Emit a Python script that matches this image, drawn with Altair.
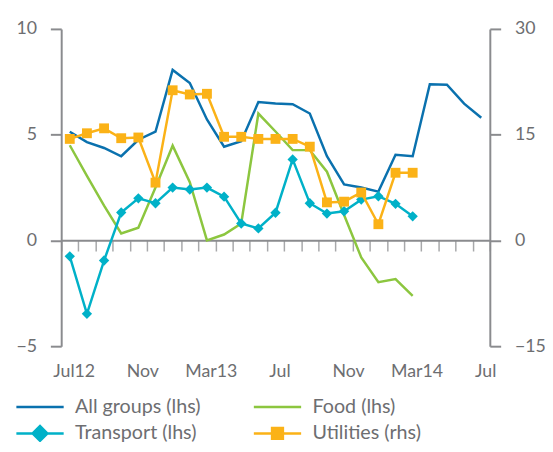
import altair as alt
import pandas as pd

months = ["2012-07", "2012-08", "2012-09", "2012-10", "2012-11", "2012-12",
          "2013-01", "2013-02", "2013-03", "2013-04", "2013-05", "2013-06",
          "2013-07", "2013-08", "2013-09", "2013-10", "2013-11", "2013-12",
          "2014-01", "2014-02", "2014-03", "2014-04", "2014-05", "2014-06", "2014-07"]
label_months = ["2012-07", "2012-11", "2013-03", "2013-07", "2013-11", "2014-03", "2014-07"]
label_texts = ["Jul12", "Nov", "Mar13", "Jul", "Nov", "Mar14", "Jul"]

all_groups = [5.14, 4.65, 4.37, 3.98, 4.76, 5.14, 8.06, 7.44, 5.72, 4.43, 4.69, 6.54, 6.47,
              6.44, 6.0, 3.98, 2.65, 2.5, 2.31, 4.05, 3.98, 7.38, 7.36, 6.47, 5.8]
food = [4.5, 3.05, 1.65, 0.33, 0.6, 2.5, 4.48, 2.75, 0.0, 0.28, 0.8, 6.0, 5.15,
        4.27, 4.27, 3.25, 1.2, -0.8, -1.97, -1.83, -2.62]
transport = [-0.75, -3.47, -0.95, 1.32, 1.99, 1.76, 2.5, 2.41, 2.5, 2.07, 0.8, 0.57, 1.31,
             3.83, 1.76, 1.27, 1.38, 1.93, 2.09, 1.73, 1.14]
utilities = [14.4, 15.2, 15.9, 14.5, 14.6, 8.2, 21.3, 20.7, 20.8, 14.7, 14.7, 14.4, 14.4,
             14.4, 13.3, 5.4, 5.5, 6.8, 2.3, 9.6, 9.6]

series_names = ["All groups (lhs)", "Food (lhs)", "Transport (lhs)", "Utilities (rhs)"]
series_colors = ["#0A71AE", "#8CC63F", "#00B1C8", "#FBB217"]
legend_paths = [
    "M-1,0H3.8",
    "M-1,0H3.8",
    "M-1,0H3.8M0.65,0L1.4,-0.75L2.15,0L1.4,0.75Z",
    "M-1,0H3.8M0.85,-0.55H1.95V0.55H0.85Z",
]

FONT = "Lato"
TEXT = "#6D6E71"
AXIS = "#8A8B8E"

def frame(vals):
    return pd.DataFrame({"month": months[:len(vals)], "value": vals})

leg_df = pd.DataFrame({"series": series_names})

label_expr = " : ".join(
    f"datum.value == '{m}' ? '{t}'" for m, t in zip(label_months, label_texts)
) + " : ''"

x_scale = alt.Scale(type="band", domain=months, paddingInner=0, paddingOuter=0)
x_axis = alt.Axis(orient="bottom", offset=-107.6, values=months, labelExpr=label_expr,
                  tickBand="extent", tickSize=11, tickWidth=1.5, tickColor="#A7A8AA",
                  domainColor=AXIS, domainWidth=2, labelPadding=113, labelOffset=4,
                  labelFont=FONT, labelFontSize=18, labelColor=TEXT, labelOverlap=False,
                  title=None, grid=False, labelAngle=0)

left_axis = alt.Axis(orient="left", values=[-5, 0, 5, 10], tickSize=11, tickWidth=2, tickColor=AXIS,
                     domainColor=AXIS, domainWidth=2, labelPadding=14, labelFont=FONT,
                     labelFontSize=18, labelColor=TEXT, title=None, grid=False)
right_axis = alt.Axis(orient="right", values=[-15, 0, 15, 30], tickSize=11, tickWidth=2, tickColor=AXIS,
                      domainColor=AXIS, domainWidth=2, labelPadding=14, labelFont=FONT,
                      labelFontSize=18, labelColor=TEXT, title=None, grid=False)

X = alt.X("month:O", scale=x_scale, axis=x_axis)
YL = alt.Y("value:Q", scale=alt.Scale(domain=[-5, 10]), axis=left_axis)
YR = alt.Y("value:Q", scale=alt.Scale(domain=[-15, 30]), axis=right_axis)

ag_line = alt.Chart(frame(all_groups)).mark_line(strokeWidth=2.5, color=series_colors[0]).encode(x=X, y=YL)
food_line = alt.Chart(frame(food)).mark_line(strokeWidth=2.5, color=series_colors[1]).encode(x=X, y=YL)
tr_line = alt.Chart(frame(transport)).mark_line(strokeWidth=2.5, color=series_colors[2]).encode(x=X, y=YL)
tr_points = alt.Chart(frame(transport)).mark_point(
    shape="diamond", filled=True, size=110, opacity=1, color=series_colors[2]).encode(x=X, y=YL)
ut_line = alt.Chart(frame(utilities)).mark_line(strokeWidth=2.5, color=series_colors[3]).encode(x=X, y=YR)
ut_points = alt.Chart(frame(utilities)).mark_point(
    shape="square", filled=True, size=100, opacity=1, color=series_colors[3]).encode(x=X, y=YR)

leg = alt.Legend(orient="none", legendX=-47, legendY=372, direction="horizontal", columns=2,
                 columnPadding=48, rowPadding=4, labelFont=FONT, labelFontSize=20, labelColor=TEXT,
                 symbolSize=400, symbolStrokeWidth=2.5, labelOffset=38, title=None,
                 symbolOpacity=1)

legend_layer = alt.Chart(leg_df).mark_point(filled=True, opacity=0, strokeWidth=2.5).encode(
    fill=alt.Fill("series:N", scale=alt.Scale(domain=series_names, range=series_colors), legend=leg),
    stroke=alt.Stroke("series:N", scale=alt.Scale(domain=series_names, range=series_colors), legend=leg),
    shape=alt.Shape("series:N", scale=alt.Scale(domain=series_names, range=legend_paths), legend=leg),
)

lhs = alt.layer(ag_line, food_line, tr_line, tr_points)
rhs = alt.layer(ut_line, ut_points)

chart = alt.layer(lhs, rhs, legend_layer).resolve_scale(y="independent").properties(
    width=435, height=322,
    autosize=alt.AutoSizeParams(type="none"),
    padding={"left": 54, "top": 18, "right": 56, "bottom": 94},
).configure_view(stroke=None)

chart.save("out.html", embed_options={"renderer": "svg", "actions": False})
